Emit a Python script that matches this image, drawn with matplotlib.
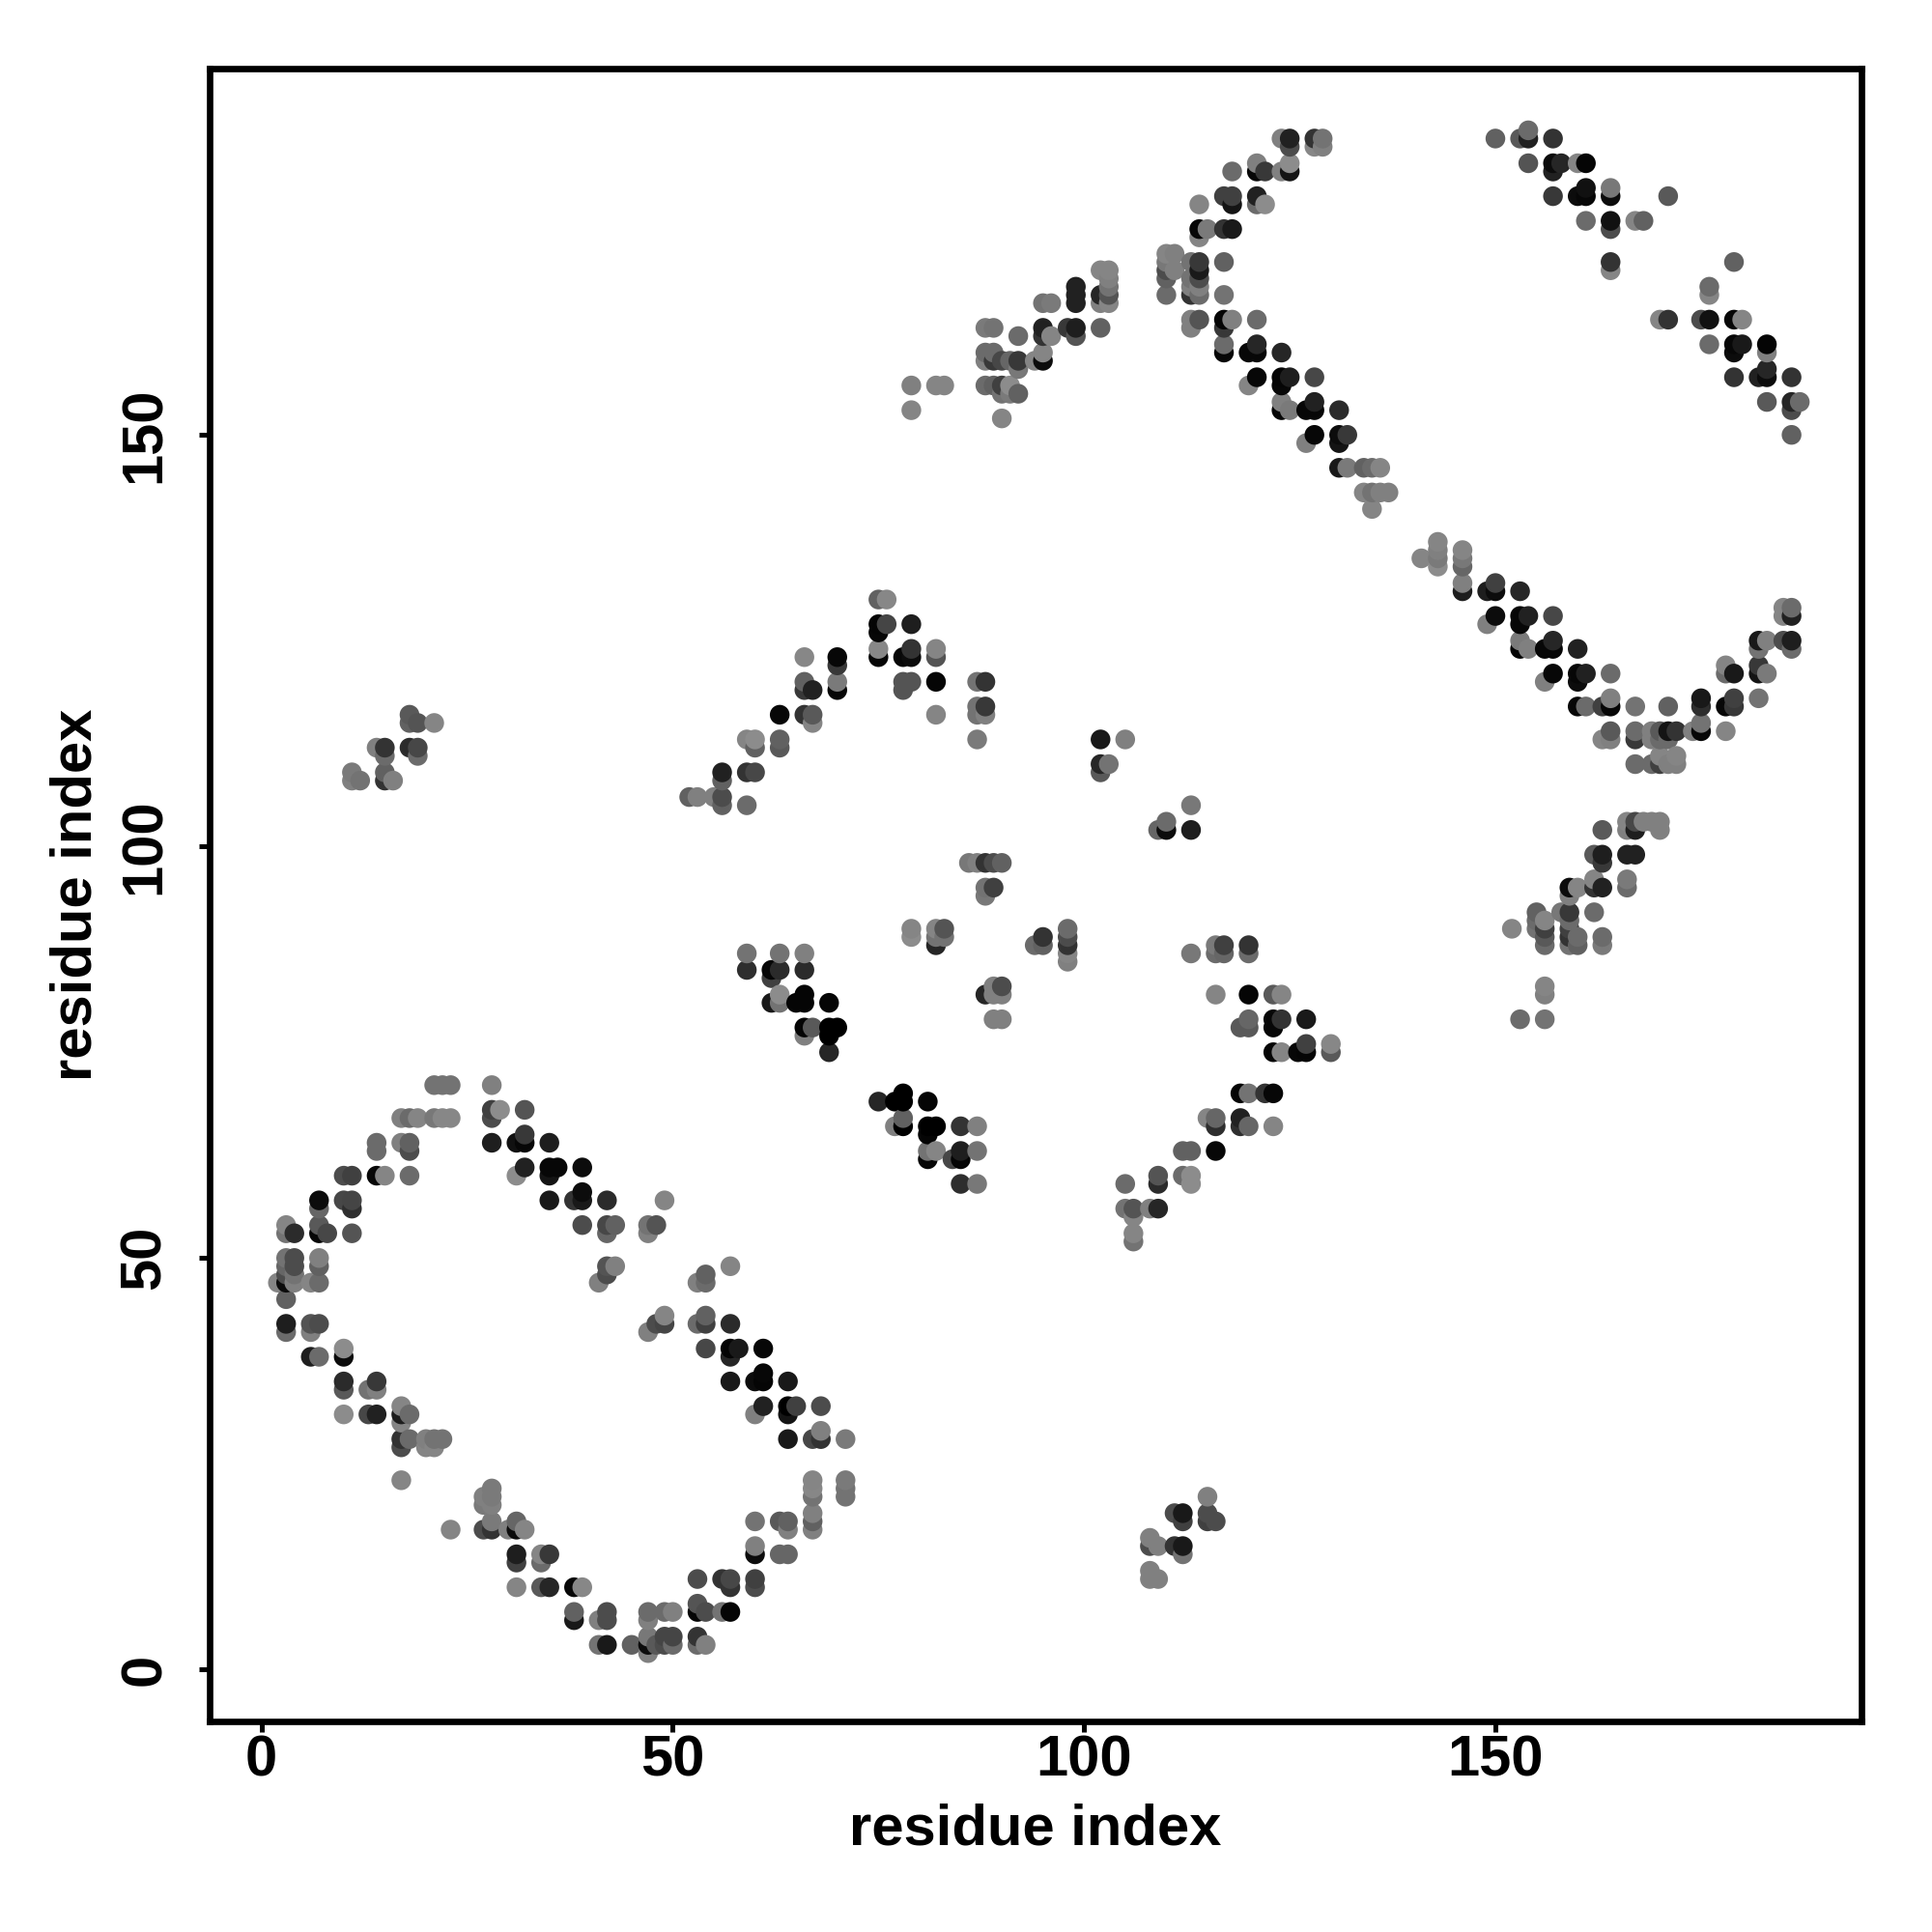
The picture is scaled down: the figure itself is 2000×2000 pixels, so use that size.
import numpy as np
import matplotlib
matplotlib.use('Agg')
import matplotlib.pyplot as plt

# contacts as (residue i, residue j, grey level), one list per block
ring_upper = [
    (21,71,.45),(22,71,.45),(23,71,.45),(28,71,.5),(28,68,.25),(29,68,.55),(32,68,.33),
    (17,67,.5),(18,67,.42),(19,67,.52),(21,67,.47),(22,67,.53),(23,67,.53),(28,67,.3),
    (14,64,.42),(17,64,.5),(18,64,.38),(28,64,.12),(31,64,.07),(32,64,.03),(35,64,.12),(32,65,.22),
    (14,63,.42),(18,63,.3),(10,60,.3),(11,60,.25),(14,60,.03),(15,60,.52),(18,60,.42),
    (32,61,.13),(35,61,.03),(36,61,.03),(39,61,.05),(31,60,.55),(35,60,.08),
    (7,57,.05),(10,57,.28),(11,57,.27),(35,57,.1),(38,57,.2),(39,57,.1),(39,58,.13),
    (7,56,.4),(11,56,.18),(3,54,.52),(7,54,.35),(3,53,.45),(4,53,.17),(7,53,.03),(8,53,.28),(11,53,.33),(39,54,.33),
    (3,50,.45),(4,50,.3),(7,50,.5),(3,49,.4),(4,49,.3),(7,49,.38),(3,48,.3),(4,48,.45),
    (2,47,.52),(3,47,.05),(4,47,.5),(6,47,.52),(7,47,.42),(3,45,.38),
    (3,42,.12),(6,42,.33),(7,42,.3),(3,41,.42),(6,41,.5),(6,38,.12),(7,38,.42),(10,38,.05),(10,39,.55),
    (10,35,.17),(14,35,.22),(10,34,.35),(13,34,.45),(14,34,.5),
    (10,31,.55),(13,31,.28),(14,31,.13),(17,32,.52),(17,31,.12),(18,31,.42),(17,30,.52),
    (17,28,.2),(18,28,.42),(20,28,.5),(21,28,.45),(22,28,.45),(17,27,.3),(20,27,.52),(21,27,.52),(17,23,.52),
]
ring_lower = [
    (28,22,.48),(27,21,.5),(28,21,.48),(27,20,.48),(28,20,.5),
    (23,17,.52),(27,17,.3),(28,17,.2),(30,17,.5),(31,17,.05),(32,17,.52),(28,18,.48),(31,18,.4),
    (31,14,.12),(34,14,.52),(35,14,.22),(31,13,.25),(34,13,.42),
    (31,10,.52),(34,10,.35),(35,10,.15),(38,10,.03),(39,10,.53),(38,7,.38),(38,6,.1),
    (42,7,.3),(42,6,.3),(41,6,.5),(47,7,.42),(49,7,.42),(50,7,.5),(47,6,.5),
    (53,8,.33),(53,7,.02),(54,7,.3),(56,7,.45),(57,7,.02),
    (47,4,.47),(49,4,.27),(50,4,.27),(53,4,.2),(41,3,.45),(42,3,.1),(45,3,.38),(47,3,.05),(48,3,.35),(49,3,.3),(50,3,.42),
    (53,3,.42),(54,3,.5),(47,2,.5),
    (53,11,.3),(56,11,.2),(57,11,.28),(60,11,.25),(57,10,.2),(60,10,.3),
    (60,15,.5),(60,14,.05),(63,14,.4),(64,14,.4),
    (67,19,.5),(60,18,.45),(63,18,.35),(64,18,.38),(67,18,.38),(64,17,.5),(67,17,.5),
    (67,23,.52),(71,23,.48),(67,22,.53),(71,22,.45),(67,21,.45),(71,21,.45),
]
ring_right = [
    (39,58,.05),(42,57,.17),(49,57,.52),(39,54,.3),(42,54,.28),(43,54,.38),(47,54,.45),(48,54,.33),(42,53,.4),(47,53,.5),
    (42,49,.33),(43,49,.5),(57,49,.52),(42,48,.3),(41,47,.5),(53,47,.5),(54,47,.42),(54,48,.38),
    (49,43,.52),(54,43,.38),(48,42,.3),(49,42,.27),(53,42,.42),(54,42,.25),(57,42,.17),(47,41,.5),
    (54,39,.28),(57,39,.02),(58,39,.1),(61,39,.03),(57,38,.15),(61,36,.03),(57,35,.1),(60,35,.05),(61,35,.02),(64,35,.1),
    (61,32,.13),(64,32,.0),(65,32,.25),(68,32,.3),(60,31,.5),(64,31,.08),
    (68,29,.5),(64,28,.1),(67,28,.28),(68,28,.2),(71,28,.48),
]
arch_left = [
    (75,130,.38),(76,130,.53),(75,127,.02),(76,127,.27),(79,127,.12),(75,126,.03),
    (75,124,.53),(79,124,.2),(82,124,.52),(75,123,.02),(78,123,.03),(79,123,.05),(82,123,.33),(66,123,.53),(70,123,.03),(70,122,.22),
    (66,120,.38),(70,120,.48),(78,120,.33),(79,120,.33),(82,120,.02),(87,120,.45),(88,120,.2),
    (66,119,.22),(67,119,.13),(70,119,.03),(78,119,.33),
    (87,117,.45),(88,117,.22),(63,116,.03),(66,116,.2),(67,116,.35),(82,116,.52),(87,116,.45),(88,116,.5),(67,115,.52),
    (59,113,.52),(60,113,.55),(63,113,.38),(87,113,.48),(60,112,.38),(63,112,.35),
    (56,109,.13),(59,109,.2),(60,109,.28),(56,108,.38),
    (52,106,.38),(53,106,.5),(55,106,.5),(56,106,.3),(56,105,.38),(59,105,.42),
]
islands_centre = [
    (86,98,.47),(87,98,.5),(88,98,.2),(89,98,.3),(90,98,.38),(88,95,.45),(89,95,.25),(88,94,.47),
    (79,90,.52),(82,90,.52),(83,90,.33),(79,89,.55),(82,89,.45),(83,89,.45),(82,88,.15),
    (98,90,.42),(95,89,.2),(98,89,.3),(94,88,.42),(95,88,.38),(98,88,.2),(98,87,.52),(98,86,.5),
    (59,87,.45),(63,87,.45),(66,87,.5),(59,85,.18),(62,85,.03),(63,85,.17),(66,85,.17),(62,84,.25),
    (90,83,.3),(89,83,.5),(63,82,.55),(66,82,.02),(88,82,.15),(89,82,.5),(90,82,.5),
    (62,81,.1),(63,81,.45),(65,81,.02),(66,81,.02),(69,81,.02),(89,79,.5),(90,79,.5),
    (66,78,.02),(67,78,.35),(69,78,.0),(70,78,.0),(66,77,.5),(69,77,.0),(69,75,.15),
    (75,69,.15),(77,69,.0),(78,69,.0),(81,69,.02),(78,70,.0),
    (77,66,.5),(78,66,.0),(81,66,.0),(82,66,.0),(85,66,.2),(87,66,.5),(78,67,.38),(81,65,.02),
    (81,63,.45),(82,63,.52),(85,63,.12),(87,63,.45),(81,62,.03),(84,62,.28),(85,62,.02),(85,59,.18),(87,59,.47),
]
strand_mid = [
    (113,105,.47),(110,103,.42),(109,102,.4),(110,102,.05),(113,102,.12),
    (102,113,.1),(105,113,.5),(102,110,.15),(103,110,.45),(102,109,.35),
    (116,88,.48),(117,88,.25),(120,88,.2),(113,87,.47),(116,87,.42),(117,87,.4),(120,87,.42),
    (116,82,.52),(120,82,.02),(123,82,.35),(124,82,.52),(120,79,.4),(123,79,.03),(124,79,.2),(127,79,.1),
    (119,78,.35),(120,78,.35),(123,78,.03),(127,76,.25),(130,76,.53),(123,75,.02),(124,75,.52),(126,75,.03),(127,75,.02),(130,75,.35),
    (119,70,.02),(120,70,.45),(122,70,.2),(123,70,.03),(115,67,.52),(116,67,.4),(119,67,.13),
    (116,66,.18),(119,66,.18),(120,66,.4),(123,66,.52),(112,63,.38),(113,63,.38),(116,63,.03),
    (109,60,.33),(112,60,.42),(113,60,.55),(105,59,.42),(109,59,.17),(113,59,.55),
    (105,56,.45),(106,56,.33),(108,56,.5),(109,56,.15),(106,55,.52),(106,53,.52),(106,52,.45),
]
corner_small = [
    (108,16,.5),(108,15,.3),(109,15,.5),(111,19,.3),(112,19,.1),(112,18,.25),(112,15,.1),(111,15,.2),(112,14,.45),
    (115,21,.5),(115,19,.3),(116,18,.3),(115,18,.25),(108,12,.5),(108,11,.5),(109,11,.5),
    (18,116,.35),(18,115,.38),(19,115,.33),(21,115,.52),(14,112,.5),(15,112,.2),(18,112,.17),(19,112,.28),
    (15,111,.42),(19,111,.42),(11,109,.48),(15,109,.38),(11,108,.5),(12,108,.45),(15,108,.2),(16,108,.5),
]
arm_up = [
    (102,170,.52),(103,170,.52),(103,169,.5),(103,168,.45),(99,167,.13),(102,167,.15),(103,167,.33),(99,168,.13),
    (95,166,.45),(96,166,.48),(99,166,.13),(102,166,.5),(103,166,.52),
    (88,163,.48),(89,163,.45),(95,163,.13),(98,163,.22),(99,163,.12),(102,163,.38),(92,162,.42),(95,162,.2),(96,162,.52),(99,162,.33),
    (88,160,.42),(89,160,.42),(95,160,.52),(88,159,.5),(89,159,.22),(90,159,.28),(91,159,.4),(92,159,.22),(94,159,.52),(95,159,.05),(92,158,.47),
    (88,156,.42),(89,156,.38),(90,156,.25),(91,156,.55),(90,155,.45),(91,155,.48),(92,155,.38),(90,152,.52),
    (79,156,.5),(82,156,.52),(83,156,.52),(79,153,.52),
]
arm_top = [
    (124,186,.5),(125,186,.13),(128,186,.2),(129,186,.45),(125,185,.3),(128,185,.53),(129,185,.5),
    (121,183,.5),(125,183,.55),(118,182,.42),(121,182,.03),(122,182,.22),(124,182,.5),(125,182,.08),
    (117,179,.25),(118,179,.25),(121,179,.13),(114,178,.52),(118,178,.08),(121,178,.42),(122,178,.55),
    (114,175,.03),(115,175,.48),(117,175,.2),(118,175,.1),(114,174,.52),
    (110,172,.52),(111,172,.5),(110,171,.47),(113,171,.45),(114,171,.22),(117,171,.38),
    (110,170,.3),(111,170,.5),(114,170,.1),(110,169,.38),(113,169,.45),(114,169,.3),(113,168,.5),(114,168,.5),
    (110,167,.42),(113,167,.2),(114,167,.42),(117,167,.45),
    (113,164,.5),(114,164,.33),(117,164,.02),(118,164,.5),(121,164,.42),(113,163,.5),(117,163,.22),
    (117,161,.42),(121,161,.15),(117,160,.03),(120,160,.03),(121,160,.03),(124,160,.15),
    (121,157,.03),(124,157,.02),(125,157,.12),(128,157,.28),(120,156,.52),(124,156,.03),
    (124,154,.5),(128,154,.13),(124,153,.02),(125,153,.48),(127,153,.03),(128,153,.03),(131,153,.17),
    (128,150,.03),(131,150,.05),(132,150,.22),(127,149,.5),(131,149,.08),
    (131,146,.1),(132,146,.48),(134,146,.38),(135,146,.42),(136,146,.52),
    (134,143,.52),(135,143,.45),(136,143,.5),(137,143,.5),(135,141,.52),
]
arm_right = [
    (154,187,.42),(150,186,.38),(153,186,.35),(154,186,.13),(157,186,.2),
    (154,183,.33),(157,183,.05),(158,183,.15),(160,183,.52),(161,183,.02),(157,182,.13),
    (161,180,.07),(164,180,.47),(157,179,.22),(160,179,.05),(161,179,.03),(164,179,.05),(171,179,.35),
    (161,176,.42),(164,176,.07),(167,176,.52),(168,176,.38),(164,175,.3),
    (164,171,.2),(179,171,.38),(164,170,.52),(176,168,.42),(176,167,.52),
    (170,164,.52),(171,164,.2),(175,164,.3),(176,164,.07),(179,164,.03),(180,164,.52),
    (176,161,.42),(179,161,.03),(180,161,.1),(183,161,.02),(179,160,.05),(183,160,.5),
    (183,158,.15),(179,157,.2),(182,157,.13),(183,157,.05),(186,157,.2),
    (183,154,.35),(186,154,.15),(187,154,.42),(186,153,.3),(186,150,.38),
]
valley = [
    (143,137,.52),(143,136,.5),(146,136,.52),(141,135,.52),(143,135,.48),(146,135,.47),(143,134,.55),(146,134,.4),
    (146,132,.5),(150,132,.25),(146,131,.12),(149,131,.12),(150,131,.05),(153,131,.15),
    (150,128,.05),(153,128,.03),(154,128,.13),(157,128,.28),(149,127,.5),(153,127,.03),
    (153,125,.48),(157,125,.15),(153,124,.02),(154,124,.5),(156,124,.03),(157,124,.03),(160,124,.13),
    (157,121,.03),(160,121,.03),(161,121,.13),(164,121,.42),(156,120,.5),(160,120,.05),
    (164,118,.5),(160,117,.03),(161,117,.42),(163,117,.25),(164,117,.03),(167,117,.45),(171,117,.38),
    (164,114,.35),(167,114,.42),(169,114,.5),(170,114,.35),(171,114,.08),(172,114,.2),
    (163,113,.52),(164,113,.5),(167,113,.22),(169,113,.5),(170,113,.42),(171,113,.42),
    (170,111,.52),(172,111,.52),(167,110,.42),(169,110,.42),(170,110,.25),(171,110,.5),(172,110,.5),
    (175,118,.1),(179,118,.25),(175,117,.18),(178,117,.03),(179,117,.22),(182,118,.45),(175,115,.45),
    (174,114,.5),(175,114,.03),(178,114,.52),(178,122,.52),(182,122,.22),(178,121,.42),(179,121,.1),(182,121,.08),(183,121,.48),
    (182,125,.1),(183,125,.5),(185,125,.3),(186,125,.12),(182,124,.45),(186,124,.42),
    (185,129,.52),(186,129,.42),(185,128,.52),(186,128,.13),
]
arm_lowright = [
    (166,103,.52),(167,103,.28),(168,103,.5),(169,103,.5),(170,103,.5),(163,102,.35),(166,102,.5),(167,102,.12),(170,102,.5),
    (162,99,.35),(163,99,.12),(166,99,.13),(167,99,.13),(163,98,.22),(162,96,.52),(166,96,.48),
    (159,95,.05),(160,95,.52),(162,95,.2),(163,95,.13),(166,95,.42),(159,94,.5),
    (155,92,.38),(158,92,.47),(159,92,.22),(162,92,.42),(155,91,.42),(156,91,.52),(159,91,.42),
    (152,90,.52),(155,90,.45),(156,90,.25),(159,90,.25),(156,89,.35),(159,89,.2),(160,89,.42),(163,89,.42),
    (156,88,.42),(159,88,.45),(160,88,.38),(163,88,.48),(156,83,.52),(156,82,.5),(153,79,.42),(156,79,.45),
]
x_ticks = [0, 50, 100, 150]
y_ticks = [0, 50, 100, 150]
axis_label = 'residue index'

blocks = [ring_upper, ring_lower, ring_right, arch_left, islands_centre, strand_mid,
          corner_small, arm_up, arm_top, arm_right, valley, arm_lowright]
contacts = {}
for block in blocks:
    for i, j, g in block:
        contacts[(i, j)] = g
res_i = np.array([k[0] for k in contacts])
res_j = np.array([k[1] for k in contacts])
grey = np.array(list(contacts.values()))
order = np.lexsort((res_j, res_i))

plt.rcParams['font.family'] = ['Liberation Sans', 'DejaVu Sans']
plt.rcParams['font.weight'] = 'bold'

fig = plt.figure(figsize=(10, 10), dpi=200)
ax = fig.add_axes([217/2000, 1 - 1782/2000, 1710/2000, 1711/2000])
ax.scatter(res_i[order], res_j[order], c=grey[order], cmap='gray', vmin=0, vmax=1,
           s=54, linewidths=0, zorder=2)
ax.set_xlim(-6.3, 194.5)
ax.set_ylim(-6.3, 194.5)
ax.set_xticks(x_ticks)
ax.set_yticks(y_ticks)
ax.tick_params(axis='x', length=4, width=1.8, labelsize=21.5, pad=1)
ax.tick_params(axis='y', length=4, width=1.8, labelsize=21.5, pad=10)
for lab in ax.get_yticklabels():
    lab.set_rotation(90)
    lab.set_va('center')
for sp in ax.spines.values():
    sp.set_linewidth(2.4)
ax.set_xlabel(axis_label, fontsize=21.5, fontweight='bold', va='center')
ax.set_ylabel(axis_label, fontsize=21.5, fontweight='bold', va='center')
ax.xaxis.set_label_coords(0.5, -0.0655)
ax.yaxis.set_label_coords(-0.0807, 0.5)
fig.savefig('out.png', dpi=200)
